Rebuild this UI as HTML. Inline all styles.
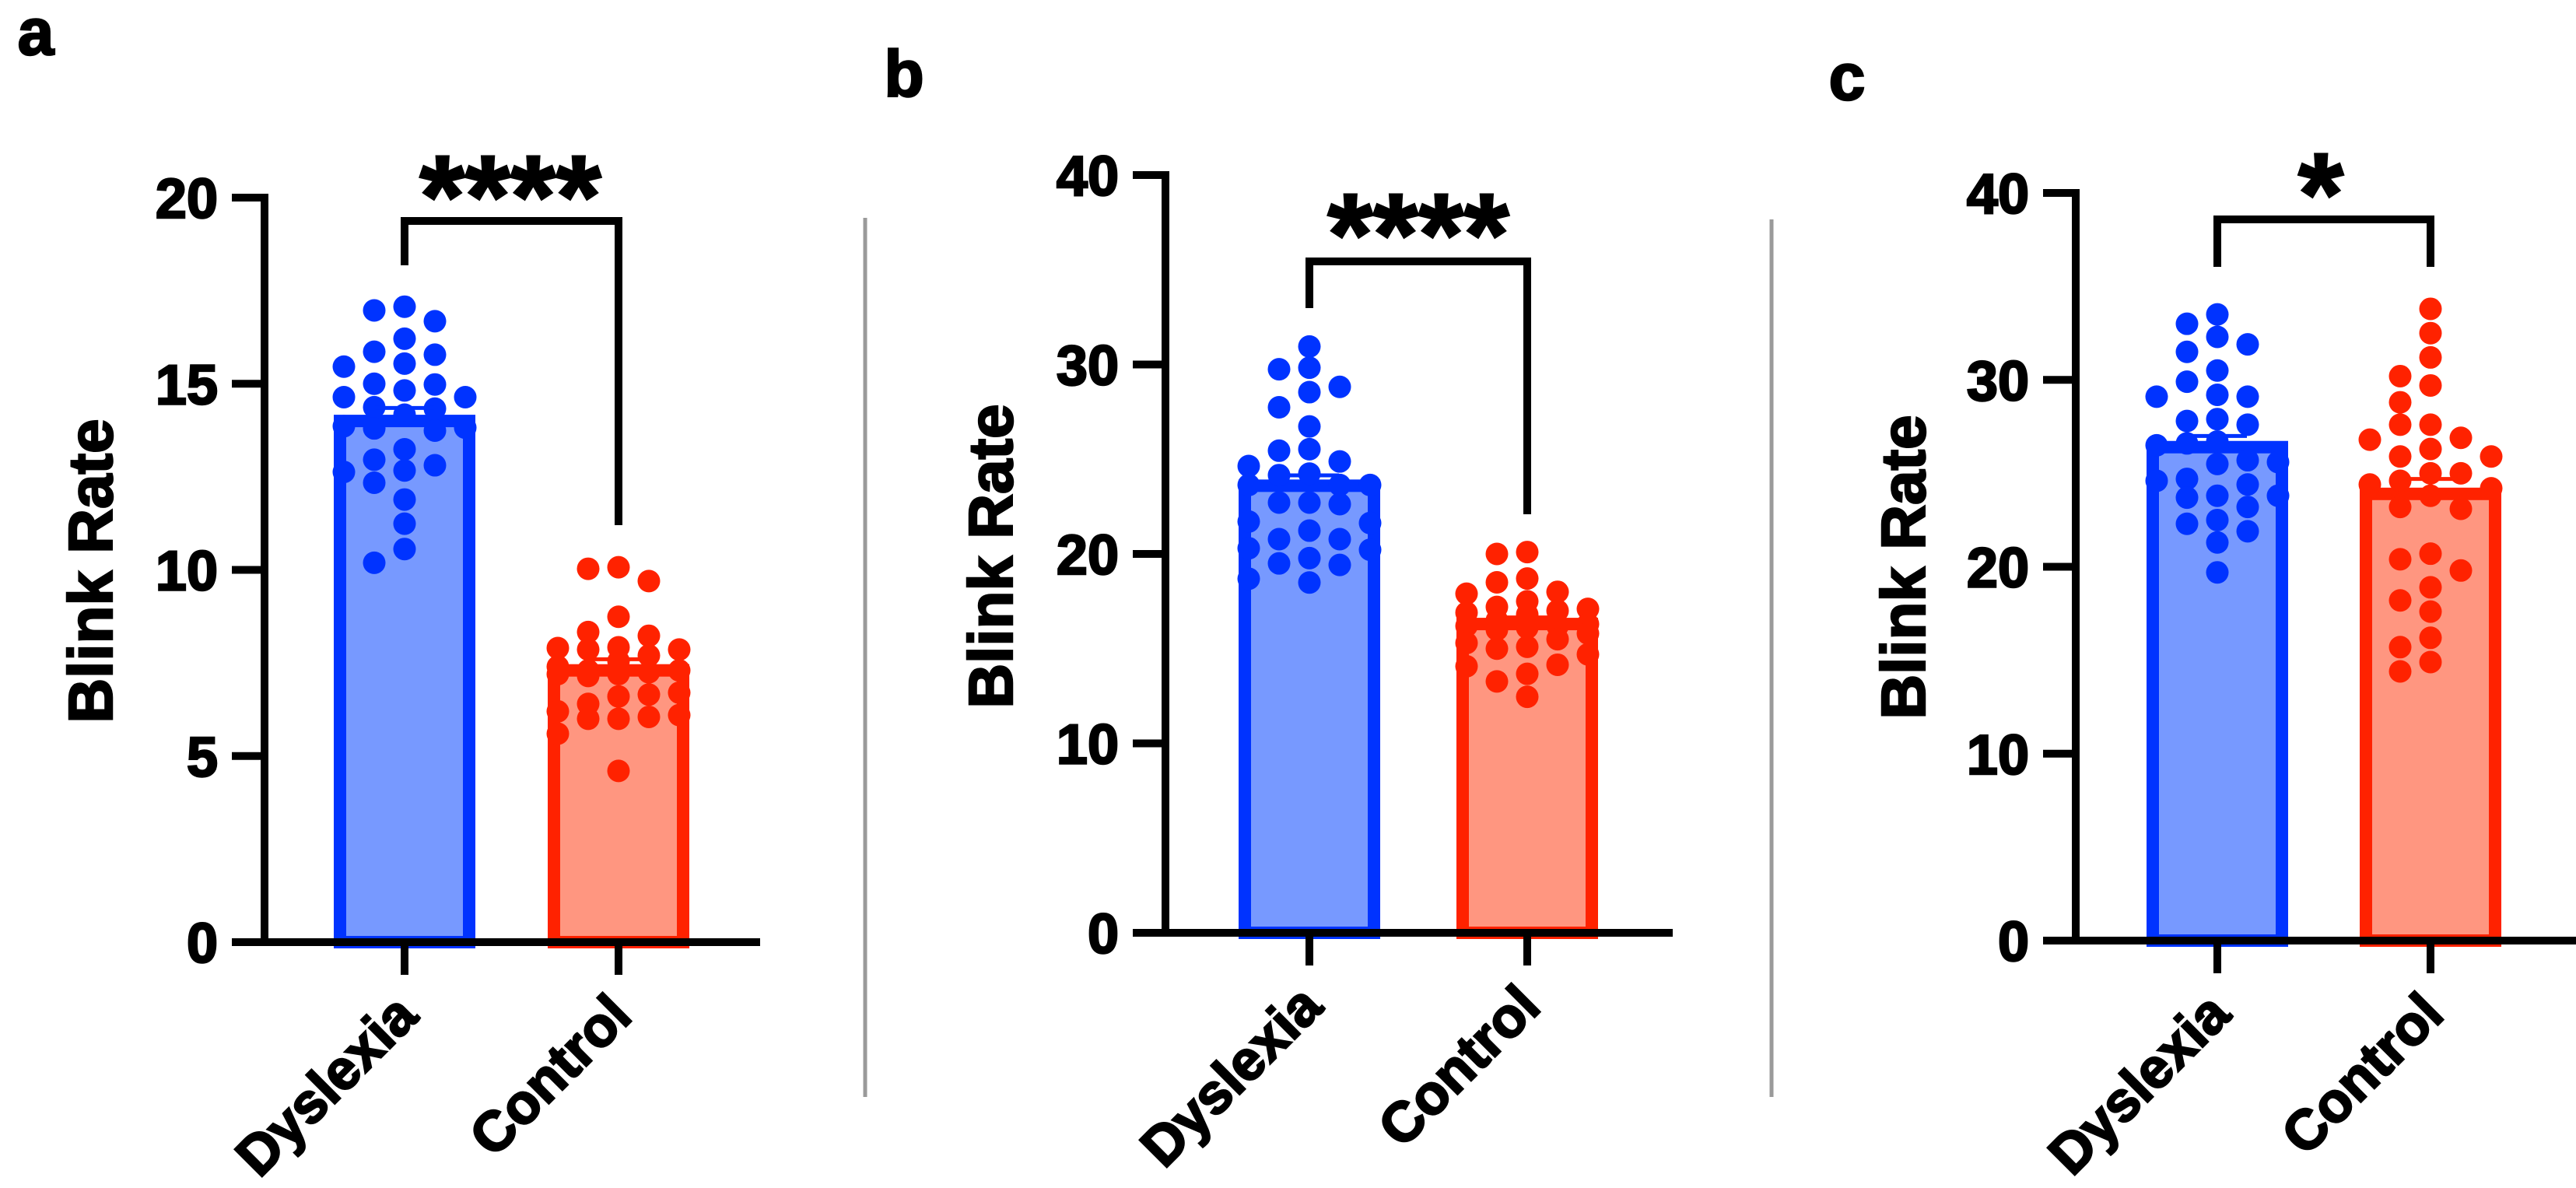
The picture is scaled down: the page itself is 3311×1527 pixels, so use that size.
<!DOCTYPE html>
<html><head><meta charset="utf-8"><style>
html,body{margin:0;padding:0;background:#fff;}
svg{display:block;font-family:"Liberation Sans",Arial,sans-serif;font-weight:bold;}
svg text{stroke:#000;stroke-width:2.5px;}
</style></head><body>
<svg id="fig" width="3311" height="1527" xmlns="http://www.w3.org/2000/svg">
<line x1="1112" y1="280" x2="1112" y2="1410" stroke="#9a9a9a" stroke-width="5"/>
<line x1="2277" y1="282" x2="2277" y2="1410" stroke="#9a9a9a" stroke-width="5"/>
</svg>
<script>
const categories = ["Dyslexia", "Control"];
const panelLetters = ["a", "b", "c"];
const sigLabels = ["****", "****", "*"];
const yMax = [20, 40, 40];
const yTicks = [[0,5,10,15,20],[0,10,20,30,40],[0,10,20,30,40]];
const meansA = [14.0, 7.3];
const meansB = [23.6, 16.3];
const meansC = [26.4, 23.9];
const semA = [0.35, 0.3];
const semB = [0.55, 0.35];
const semC = [0.6, 0.8];
const dysA = [17.07,16.97,16.68,16.21,15.78,15.86,15.54,15.46,15.0,14.98,14.82,14.64,14.64,14.37,14.33,14.17,13.8,13.74,13.82,13.86,13.24,12.96,12.81,12.67,12.63,12.34,11.89,11.24,10.56,10.19];
const conA = [10.07,10.03,9.70,8.74,8.33,8.23,7.9,7.86,7.7,7.86,7.92,7.55,7.3,7.2,7.15,7.2,7.4,7.3,7.25,6.7,6.65,6.6,6.4,6.2,6.1,6.0,6.05,6.0,5.6,4.6];
const dysB = [30.95,29.83,29.75,28.82,28.54,27.74,26.73,25.53,25.45,24.88,24.64,24.24,24.16,23.64,23.64,23.64,22.71,22.71,22.63,21.71,21.63,21.23,20.78,20.78,20.3,20.22,19.78,19.42,19.5,18.69,18.49];
const conB = [20.1,20.0,18.7,18.5,18.0,17.9,17.5,17.1,17.0,16.9,16.3,16.2,16.1,16.0,15.5,15.3,15.1,14.7,14.15,14.07,13.67,13.27,12.46,16.5,16.8,17.2,16.2,15.8,15.0];
const dysC = [33.5,33.0,32.3,31.9,31.5,30.5,29.9,29.1,29.1,29.2,27.9,27.8,27.6,26.7,26.6,26.5,25.7,25.6,25.5,24.7,24.6,24.4,23.8,23.8,23.7,23.2,22.5,22.3,21.9,21.3,19.7];
const conC = [33.8,32.5,31.2,30.2,29.7,28.8,27.6,27.6,26.9,26.8,26.3,25.9,25.9,25.0,25.0,24.6,24.4,24.2,23.8,23.2,23.1,20.7,20.4,19.8,18.9,18.2,17.6,16.2,15.7,14.9,14.4];

const panels = [
 {axisX:340, top:254, base:1211, xEnd:977, cx:[520,795], means:meansA, sem:semA, pts:[dysA,conA], bracketY:284, legs:[341,675], starX:656, starY:220, letter:[46,70], titleX:116, titleY:734},
 {axisX:1498, top:225, base:1199, xEnd:2150, cx:[1683,1963], means:meansB, sem:semB, pts:[dysB,conB], bracketY:336, legs:[396,661], starX:1823, starY:269, letter:[1162,124], titleX:1273, titleY:715},
 {axisX:2668, top:248, base:1209, xEnd:3311, cx:[2850,3124], means:meansC, sem:semC, pts:[dysC,conC], bracketY:282, legs:[343,343], starX:2983, starY:217, letter:[2374,128], titleX:2446, titleY:729}
];
const fills = ["#7799ff", "#ff9680"];
const strokes = ["#0033ff", "#ff2200"];
const svg = document.getElementById('fig');
const NS = "http://www.w3.org/2000/svg";
function mk(tag, attrs, parent){ const e=document.createElementNS(NS,tag); for(const k in attrs) e.setAttribute(k,attrs[k]); (parent||svg).appendChild(e); return e; }

panels.forEach((p, pi) => {
  const g = mk('g', {});
  
  
  const y = v => p.base - v / yMax[pi] * (p.base - p.top);
  categories.forEach((c, ci) => {
    const bw = 166;
    const r = mk('rect', {x:p.cx[ci]-bw/2, y:y(p.means[ci]), width:bw, height:p.base-y(p.means[ci]), fill:fills[ci], stroke:strokes[ci], 'stroke-width':16}, g);
    
    
  });
  categories.forEach((c, ci) => {
    const vals = p.pts[ci].slice().sort((a,b)=>b-a);
    const colOrder = [0,-1,1,-2,2];
    const placed = {};
    colOrder.forEach(k => placed[k] = []);
    vals.forEach(v => {
      const py = y(v);
      let col = null;
      for (const k of colOrder) { if (placed[k].every(q => Math.abs(q - py) >= 27)) { col = k; break; } }
      if (col === null) {
        let best = -1;
        for (const k of colOrder) { const d = Math.min(...placed[k].map(q => Math.abs(q - py))); if (d > best) { best = d; col = k; } }
      }
      placed[col].push(py);
      const d = mk('circle', {cx:p.cx[ci] + col*39, cy:py, r:14.5, fill:strokes[ci]}, g);
      
      
    });
  });
  categories.forEach((c, ci) => {
    const y0 = y(p.means[ci]), y1 = y(p.means[ci] + p.sem[ci]);
    const e = mk('path', {d:`M${p.cx[ci]} ${y0} V${y1} M${p.cx[ci]-38} ${y1} H${p.cx[ci]+38}`, stroke:strokes[ci], 'stroke-width':5, fill:'none'}, g);
    
    
  });
  const ya = mk('line', {x1:p.axisX, y1:p.top-5, x2:p.axisX, y2:p.base+5, stroke:'#000', 'stroke-width':10}, g);
  
  
  const xa = mk('line', {x1:p.axisX-42, y1:p.base, x2:p.xEnd, y2:p.base, stroke:'#000', 'stroke-width':10}, g);
  
  
  yTicks[pi].forEach(t => {
    const tl = mk('line', {x1:p.axisX-42, y1:y(t), x2:p.axisX, y2:y(t), stroke:'#000', 'stroke-width':10}, g);
    
    
    const tx = mk('text', {x:p.axisX-60, y:y(t)+26, 'text-anchor':'end', 'font-size':72}, g);
    tx.textContent = t;
    
    
  });
  categories.forEach((c, ci) => {
    const tl = mk('line', {x1:p.cx[ci], y1:p.base, x2:p.cx[ci], y2:p.base+42, stroke:'#000', 'stroke-width':10}, g);
    
    
    const tx = mk('text', {x:p.cx[ci]+20, y:p.base+98, 'text-anchor':'end', 'font-size':72, transform:`rotate(-45 ${p.cx[ci]+20} ${p.base+98})`}, g);
    tx.textContent = c;
    
    
  });
  const tt = mk('text', {x:p.titleX, y:p.titleY, 'text-anchor':'middle', 'font-size':80, transform:`rotate(-90 ${p.titleX} ${p.titleY})`, dy:28}, g);
  tt.textContent = 'Blink Rate';
  
  
  const lt = mk('text', {x:p.letter[0], y:p.letter[1], 'text-anchor':'middle', 'font-size':84}, g);
  lt.textContent = panelLetters[pi];
  
  
  const br = mk('path', {d:`M${p.cx[0]} ${p.legs[0]} V${p.bracketY} H${p.cx[1]} V${p.legs[1]}`, stroke:'#000', 'stroke-width':10, fill:'none'}, g);
  
  
  const st = mk('text', {x:p.starX, y:p.starY+84, 'text-anchor':'middle', 'font-size':150}, g);
  st.textContent = sigLabels[pi];
  
  
});
</script>
</body></html>
